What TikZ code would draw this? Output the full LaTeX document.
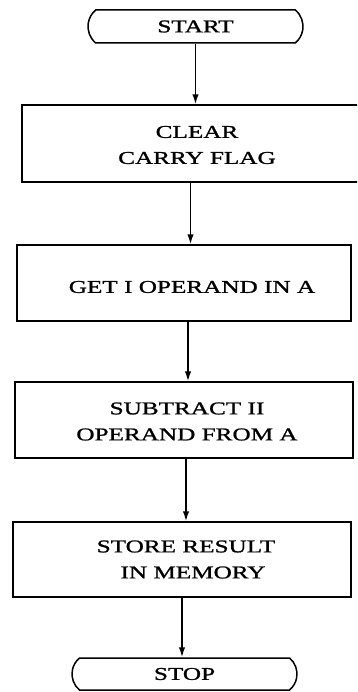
\documentclass[tikz,border=0pt]{standalone}
\usepackage{fontspec}
\setmainfont{Liberation Serif}[FakeStretch=1.4,FakeBold=1.2]
\usetikzlibrary{arrows.meta,shapes.misc}

\begin{document}
\begin{tikzpicture}[x=1pt,y=-1pt,
  terminal/.style={draw,line width=1.5pt,rounded rectangle,
    rounded rectangle arc length=100,inner sep=0pt},
  stepbox/.style={draw,line width=1.4pt,rectangle,inner sep=0pt},
  label/.style={align=center,inner sep=0pt,
    font=\fontsize{18}{26}\selectfont},
  arr/.style={line width=1.6pt,-{Latex[length=10pt,width=6.5pt]}}]
  \useasboundingbox (0,0) rectangle (357,692);
  \clip (0,0) rectangle (357,692);

  % terminals
  \node[terminal,minimum width=215pt,minimum height=33pt,
        font=\fontsize{18}{26}\selectfont] (start) at (195.5,26.5) {START};
  \node[terminal,minimum width=225pt,minimum height=32pt,
        font=\fontsize{18}{26}\selectfont] (stop) at (184.5,674) {STOP};

  % process boxes
  \node[stepbox,minimum width=343pt,minimum height=77pt] (b1) at (193.5,143.5) {};
  \node[stepbox,minimum width=334pt,minimum height=76pt] (b2) at (184,283) {};
  \node[stepbox,minimum width=338pt,minimum height=76pt] (b3) at (184,420) {};
  \node[stepbox,minimum width=338pt,minimum height=75pt] (b4) at (182,559.5) {};

  % box texts
  \node[label] (t1) at (197,145) {CLEAR\\CARRY FLAG};
  \node[label] (t2) at (192,287) {GET I OPERAND IN A};
  \node[label] (t3) at (187,421.5) {SUBTRACT II\\OPERAND FROM A};
  \node[label] (t4) at (186,559.5) {STORE RESULT\\\hspace*{14pt}IN MEMORY};

  % flow
  \draw[arr] (start.south) -- (start.south |- b1.north);
  \draw[arr] ([xshift=-3pt]b1.south) -- ([xshift=-3pt]b1.south |- b2.north);
  \draw[arr] ([xshift=4pt]b2.south) -- ([xshift=4pt]b2.south |- b3.north);
  \draw[arr] ([xshift=2pt]b3.south) -- ([xshift=2pt]b3.south |- b4.north);
  \draw[arr] (b4.south) -- (b4.south |- stop.north);
\end{tikzpicture}
\end{document}
